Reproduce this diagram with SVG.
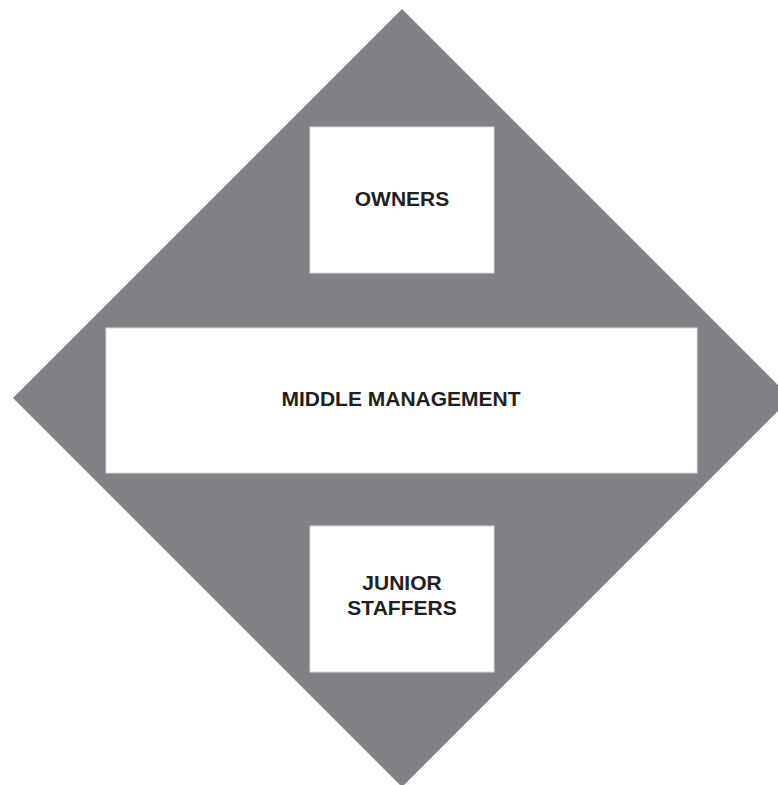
<svg xmlns="http://www.w3.org/2000/svg" width="778" height="785" viewBox="0 0 778 785">
  <style>
    .tier { fill: #ffffff; stroke: #d9d9da; stroke-width: 1; }
    .label { font-family: "Liberation Sans", Arial, sans-serif; font-weight: bold; font-size: 21px; fill: #231f20; text-anchor: middle; }
  </style>
  <rect x="0" y="0" width="778" height="785" fill="#ffffff"/>
  <!-- background diamond -->
  <polygon points="402,9 791,398 402,787 13,398" fill="#808184"/>
  <g id="owners">
    <rect class="tier" x="310" y="127" width="184" height="146"/>
    <text class="label" x="402" y="206">OWNERS</text>
  </g>
  <g id="middle-management">
    <rect class="tier" x="106" y="328" width="591" height="145"/>
    <text class="label" x="401" y="406">MIDDLE MANAGEMENT</text>
  </g>
  <g id="junior-staffers">
    <rect class="tier" x="310" y="526" width="184" height="146"/>
    <text class="label" x="402" y="590">JUNIOR</text>
    <text class="label" x="402" y="615">STAFFERS</text>
  </g>
  <g id="connectors"/>
</svg>
